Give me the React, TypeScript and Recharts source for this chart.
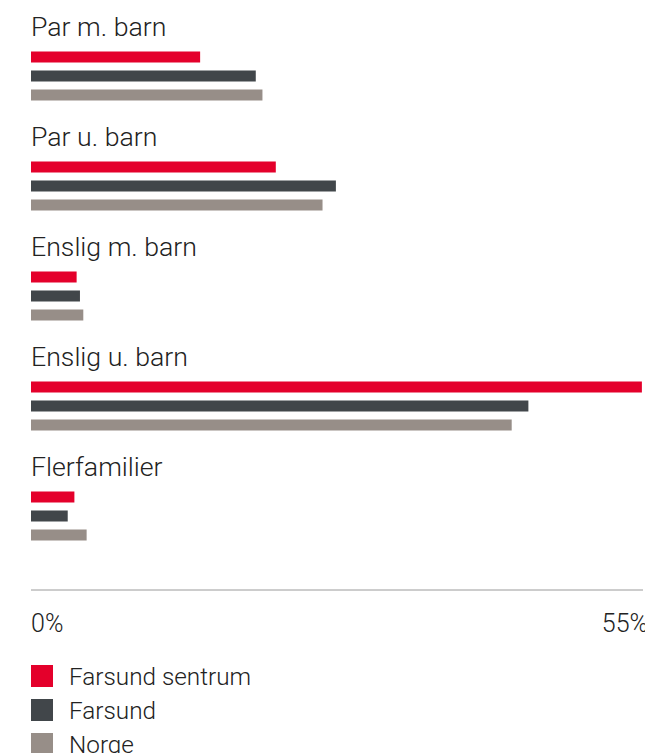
import { Bar, BarChart, LabelList, XAxis, YAxis } from "recharts";

const categories = ["Par m. barn", "Par u. barn", "Enslig m. barn", "Enslig u. barn", "Flerfamilier"];
const sentrum = [15.2, 22.0, 4.1, 54.9, 3.9];
const farsund = [20.2, 27.4, 4.4, 44.7, 3.3];
const norge = [20.8, 26.2, 4.7, 43.2, 5.0];
const axisTicks = [0, 55];

const series = [
    { key: "sentrum", name: "Farsund sentrum", color: "#e4002b" },
    { key: "farsund", name: "Farsund", color: "#41464a" },
    { key: "norge", name: "Norge", color: "#978e88" },
];

const chartData = categories.map((name, i) => ({
    name,
    sentrum: sentrum[i],
    farsund: farsund[i],
    norge: norge[i],
}));

const FONT = "Roboto, 'Open Sans', sans-serif";
const TEXT = "#222222";
const LEFT = 23;

// category name sits above the group, left-aligned with the first bar
function CategoryLabel(props: any) {
    const { x, y, value } = props;
    return (
        <text x={x} y={y - 16} fill={TEXT} fontSize={26.7} fontWeight={300} fontFamily={FONT} textAnchor="start">
            {value}
        </text>
    );
}

function ValueTick(props: any) {
    const { x, y, payload, index } = props;
    const first = index === 0;
    return (
        <text x={first ? x : x + 5} y={y + 42} fill={TEXT} fontSize={25} fontWeight={300} fontFamily={FONT}
            textAnchor={first ? "start" : "end"}>
            {payload.value}%
        </text>
    );
}

export default function App() {
    return (
        <div style={{ position: "absolute", top: 8, left: 8, width: 637, height: 745, overflow: "hidden", fontFamily: FONT }}>
            <BarChart width={680} height={640} data={chartData} layout="vertical"
                margin={{ top: 12.5, right: 45, bottom: 0, left: LEFT }} barSize={11} barGap={8}>
                <XAxis type="number" domain={[0, 55]} ticks={axisTicks} height={58}
                    axisLine={{ stroke: "#9a9a9a" }} tickLine={false} tickSize={0} tickMargin={0}
                    tick={<ValueTick />} interval={0} />
                <YAxis type="category" dataKey="name" hide padding={{ top: 0, bottom: 19.5 }} />
                {series.map((s, i) => (
                    <Bar key={s.key} dataKey={s.key} name={s.name} fill={s.color} isAnimationActive={false}>
                        {i === 0 && <LabelList dataKey="name" content={<CategoryLabel />} />}
                    </Bar>
                ))}
            </BarChart>
            <div style={{ marginTop: 17, marginLeft: LEFT }}>
                {series.map(s => (
                    <div key={s.key} style={{ display: "flex", alignItems: "center", height: 22, marginBottom: 12 }}>
                        <div style={{ width: 22, height: 22, background: s.color, marginRight: 16 }} />
                        <span style={{ fontSize: 24.3, fontWeight: 300, color: TEXT }}>{s.name}</span>
                    </div>
                ))}
            </div>
        </div>
    );
}
